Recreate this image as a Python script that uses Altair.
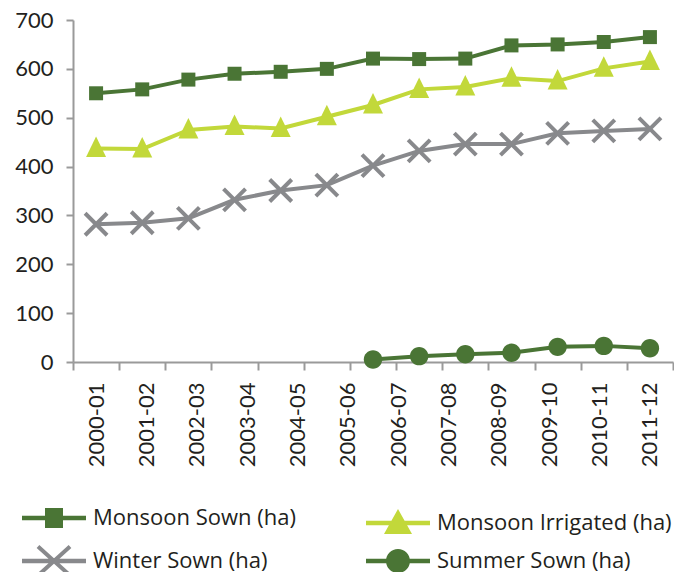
import math
import altair as alt
import pandas as pd

# ---- data ----
periods = ["2000-01", "2001-02", "2002-03", "2003-04", "2004-05", "2005-06",
           "2006-07", "2007-08", "2008-09", "2009-10", "2010-11", "2011-12"]
series_names = ["Monsoon Sown (ha)", "Monsoon Irrigated (ha)",
                "Winter Sown (ha)", "Summer Sown (ha)"]
monsoon_sown = [550, 558, 578, 590, 594, 600, 621, 620, 621, 648, 650, 655, 665]
monsoon_irrigated = [437, 436, 475, 482, 478, 502, 526, 558, 563, 581, 575, 601, 615]
winter_sown = [282, 285, 294, 332, 351, 362, 402, 432, 446, 446, 468, 473, 477]
summer_sown = [None, None, None, None, None, None, 5, 12, 16, 19, 31, 33, 28]
y_ticks = [0, 100, 200, 300, 400, 500, 600, 700]

colors = ["#4a7535", "#c2d83a", "#88898c", "#4a7535"]
line_widths = [4, 4, 4, 3.5]
# legend entry placement (legendX, legendY) relative to the plot area
legend_xy = [(-30, 487), (314, 492), (-30, 530), (314, 530)]

rows = []
for name, vals in zip(series_names, [monsoon_sown, monsoon_irrigated, winter_sown, summer_sown]):
    for i, v in enumerate(vals):
        if v is not None:
            rows.append({"series": name, "idx": i, "value": v})
df = pd.DataFrame(rows)
n_slots = len(monsoon_sown)


# ---- marker geometry (unit paths) ----
def rect(x0, y0, x1, y1):
    return f"M{x0},{y0}L{x0},{y1}L{x1},{y1}L{x1},{y0}Z"


def xshape(ax, ay, h):
    L = math.hypot(2 * ax, 2 * ay)
    dx, dy = 2 * ax / L, 2 * ay / L
    out = ""
    for sgn in (1, -1):
        p1 = (-ax, -sgn * ay)
        p2 = (ax, sgn * ay)
        d = (dx, sgn * dy)
        nx, ny = -d[1] * h, d[0] * h
        pts = [(p1[0] + nx, p1[1] + ny), (p2[0] + nx, p2[1] + ny),
               (p2[0] - nx, p2[1] - ny), (p1[0] - nx, p1[1] - ny)]
        out += "M" + "L".join(f"{a:.3f},{b:.3f}" for a, b in pts) + "Z"
    return out


def circ(r):
    return f"M{-r},0A{r},{r},0,1,0,{r},0A{r},{r},0,1,0,{-r},0Z"


def tri(w, top, base):
    return f"M0,{top}L{-w},{base}L{w},{base}Z"


chart_shapes = [rect(-0.7, -0.7, 0.7, 0.7), tri(1.0, -1.2, 0.85),
                xshape(1.1, 1.1, 0.2), circ(0.92)]
bar = rect(-3.2, -0.22, 3.2, 0.22)
legend_shapes = [bar + rect(-0.9, -1.0, 0.9, 1.0),
                 bar + tri(1.4, -1.4, 1.1),
                 bar + xshape(1.6, 1.45, 0.2),
                 bar + circ(1.2)]

axis_grey = "#9a9a9a"
text_col = "#231f20"

xscale = alt.Scale(domain=[-0.5, n_slots - 0.5], nice=False, zero=False)
x_tick_vals = [i - 0.5 for i in range(n_slots + 1)]
x_axis = alt.Axis(values=x_tick_vals, labels=False, tickSize=8, tickWidth=2,
                  tickColor=axis_grey, domainColor=axis_grey, domainWidth=2,
                  grid=False, title=None, orient="bottom")
y_axis = alt.Axis(values=y_ticks, tickSize=7, tickWidth=2, tickColor=axis_grey,
                  domainColor=axis_grey, domainWidth=2, grid=False, title=None,
                  labelFont="Lato", labelFontSize=22, labelColor=text_col,
                  labelPadding=13)

base = alt.Chart(df).encode(
    x=alt.X("idx:Q", scale=xscale, axis=x_axis),
    y=alt.Y("value:Q", scale=alt.Scale(domain=[0, 700], nice=False), axis=y_axis),
)

lines = base.mark_line().encode(
    stroke=alt.Stroke("series:N", scale=alt.Scale(domain=series_names, range=colors), legend=None),
    strokeWidth=alt.StrokeWidth("series:N", scale=alt.Scale(domain=series_names, range=line_widths), legend=None),
)
points = base.mark_point(filled=True, size=400, opacity=1).encode(
    fill=alt.Fill("series:N", scale=alt.Scale(domain=series_names, range=colors), legend=None),
    shape=alt.Shape("series:N", scale=alt.Scale(domain=series_names, range=chart_shapes), legend=None),
)
main = alt.layer(lines, points)

labels_layer = alt.Chart(pd.DataFrame({"period": periods})).mark_point(opacity=0).encode(
    x=alt.X("period:N", sort=periods,
            scale=alt.Scale(type="point", padding=11 / 24),
            axis=alt.Axis(orient="bottom", ticks=False, domain=False, grid=False,
                          labelAngle=270, labelFont="Lato", labelFontSize=22,
                          labelColor=text_col, labelPadding=20, title=None)),
    y=alt.value(0),
)

legend_layers = []
for name, col, path, (lx, ly) in zip(series_names, colors, legend_shapes, legend_xy):
    leg = alt.Legend(orient="none", legendX=lx, legendY=ly, title=None, padding=0,
                     labelFont="Open Sans", labelFontSize=22, labelColor=text_col,
                     labelOffset=28, labelLimit=400, symbolSize=400,
                     symbolType=path, symbolStrokeWidth=0, symbolOpacity=1)
    legend_layers.append(
        alt.Chart(pd.DataFrame({"series": [name]})).mark_point(
            filled=True, opacity=0, size=400).encode(
            color=alt.Color("series:N", scale=alt.Scale(domain=[name], range=[col]), legend=leg)
        )
    )

chart = alt.layer(main, labels_layer, *legend_layers).resolve_scale(
    x="independent", color="independent"
).properties(
    width=600, height=342,
    autosize=alt.AutoSizeParams(type="none"),
    padding={"left": 65, "top": 12, "right": 1, "bottom": 210},
).configure_view(stroke=None)

chart.save("out.html", embed_options={"renderer": "svg", "actions": False})
